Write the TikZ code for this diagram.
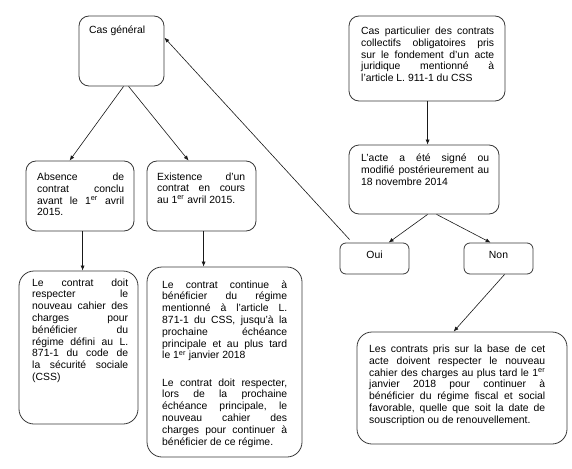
\documentclass[tikz,border=0pt]{standalone}
\usepackage{fontspec}
\setmainfont{Liberation Sans}
\usetikzlibrary{arrows.meta,calc}
\hyphenpenalty=10000
\exhyphenpenalty=10000
\frenchspacing
\tikzset{
  box/.style={draw=black!78, line width=0.8pt, rounded corners=10pt, inner sep=0pt},
  bigbox/.style={box, rounded corners=15pt},
  smallbox/.style={box, rounded corners=6pt},
  txt/.style={inner sep=0pt, anchor=base west, align=justify,
    font=\fontsize{10.4}{11.8}\selectfont},
  ctxt/.style={inner sep=0pt, anchor=base, font=\fontsize{10.4}{11.8}\selectfont},
  arr/.style={line width=0.6pt, draw=black!90, -{Latex[length=5pt,width=4pt]}},
}
\begin{document}
\begin{tikzpicture}[x=1pt,y=-1pt]
\useasboundingbox (0,0) rectangle (572,468);
% boxes
\node[box, minimum width=85pt, minimum height=70pt] (cg) at (121.5,51) {};
\node[box, minimum width=156pt, minimum height=85pt] (tr) at (427,58.5) {};
\node[box, minimum width=150pt, minimum height=69pt] (acte) at (424,179.5) {};
\node[smallbox, minimum width=69pt, minimum height=31pt] (oui) at (374.5,258.5) {};
\node[smallbox, minimum width=69pt, minimum height=31pt] (non) at (498.5,258.5) {};
\node[box, minimum width=108pt, minimum height=70pt] (abs) at (80,196) {};
\node[box, minimum width=109pt, minimum height=70pt] (exi) at (201.5,196) {};
\node[bigbox, minimum width=119pt, minimum height=153pt] (b1) at (78.5,347.5) {};
\node[bigbox, minimum width=155pt, minimum height=190pt] (b2) at (224.5,362) {};
\node[bigbox, minimum width=210pt, minimum height=112pt] (br) at (462,388) {};
% texts
\node[txt, text width=70pt] (tcg) at (89,33.5) {Cas général};
\node[txt, text width=133pt] (ttr) at (361,34.5) {Cas particulier des contrats\linebreak collectifs obligatoires pris\linebreak sur le fondement d’un acte\linebreak juridique mentionné à\linebreak l’article L. 911-1 du CSS};
\node[txt, text width=128pt] (tacte) at (361,161.5) {L’acte a été signé ou\linebreak modifié postérieurement au\linebreak 18 novembre 2014};
\node[ctxt] (toui) at (374.5,258.5) {Oui};
\node[ctxt] (tnon) at (498.5,258.5) {Non};
\node[txt, text width=87pt] (tabs) at (37,180.5) {Absence de\linebreak contrat conclu\linebreak avant le 1\textsuperscript{er} avril\linebreak 2015.};
\node[txt, text width=88pt] (texi) at (157,180) {Existence d’un\linebreak contrat en cours\linebreak au 1\textsuperscript{er} avril 2015.};
\node[txt, text width=96pt] (tb1) at (32,286) {Le contrat doit\linebreak respecter le\linebreak nouveau cahier des\linebreak charges pour\linebreak bénéficier du\linebreak régime défini au L.\linebreak 871-1 du code de\linebreak la sécurité sociale\linebreak (CSS)};
\node[txt, text width=125pt] (tb2) at (162,288) {Le contrat continue à\linebreak bénéficier du régime\linebreak mentionné à l’article L.\linebreak 871-1 du CSS, jusqu’à la\linebreak prochaine échéance\linebreak principale et au plus tard\linebreak le 1\textsuperscript{er} janvier 2018\par\vspace{15.4pt}Le contrat doit respecter,\linebreak lors de la prochaine\linebreak échéance principale, le\linebreak nouveau cahier des\linebreak charges pour continuer à\linebreak bénéficier de ce régime.};
\node[txt, text width=176pt] (tbr) at (369,352.5) {Les contrats pris sur la base de cet\linebreak acte doivent respecter le nouveau\linebreak cahier des charges au plus tard le 1\textsuperscript{er}\linebreak janvier 2018 pour continuer à\linebreak bénéficier du régime fiscal et social\linebreak favorable, quelle que soit la date de\linebreak souscription ou de renouvellement.};
% connectors
\draw[arr] ($(cg.south west)+(45,0)$) -- ($(abs.north west)+(44,0)$);
\draw[arr] ($(cg.south west)+(50,0)$) -- ($(exi.north west)+(42,0)$);
\draw[arr] ($(abs.south west)+(57,0)$) -- ($(b1.north west)+(64,0)$);
\draw[arr] ($(exi.south west)+(57,0)$) -- ($(b2.north west)+(57,0)$);
\draw[arr] ($(tr.south west)+(79,0)$) -- ($(acte.north west)+(79,0)$);
\draw[arr] ($(acte.south west)+(79,0)$) -- ($(oui.north west)+(49,0)$);
\draw[arr] ($(acte.south west)+(88,0)$) -- ($(non.north west)+(27,0)$);
\draw[arr] ($(oui.north west)+(10,-3)$) -- ($(cg.north east)+(0,22)$);
\draw[arr] ($(non.south west)+(41,0)$) -- ($(br.north west)+(97,0)$);
\end{tikzpicture}
\end{document}
